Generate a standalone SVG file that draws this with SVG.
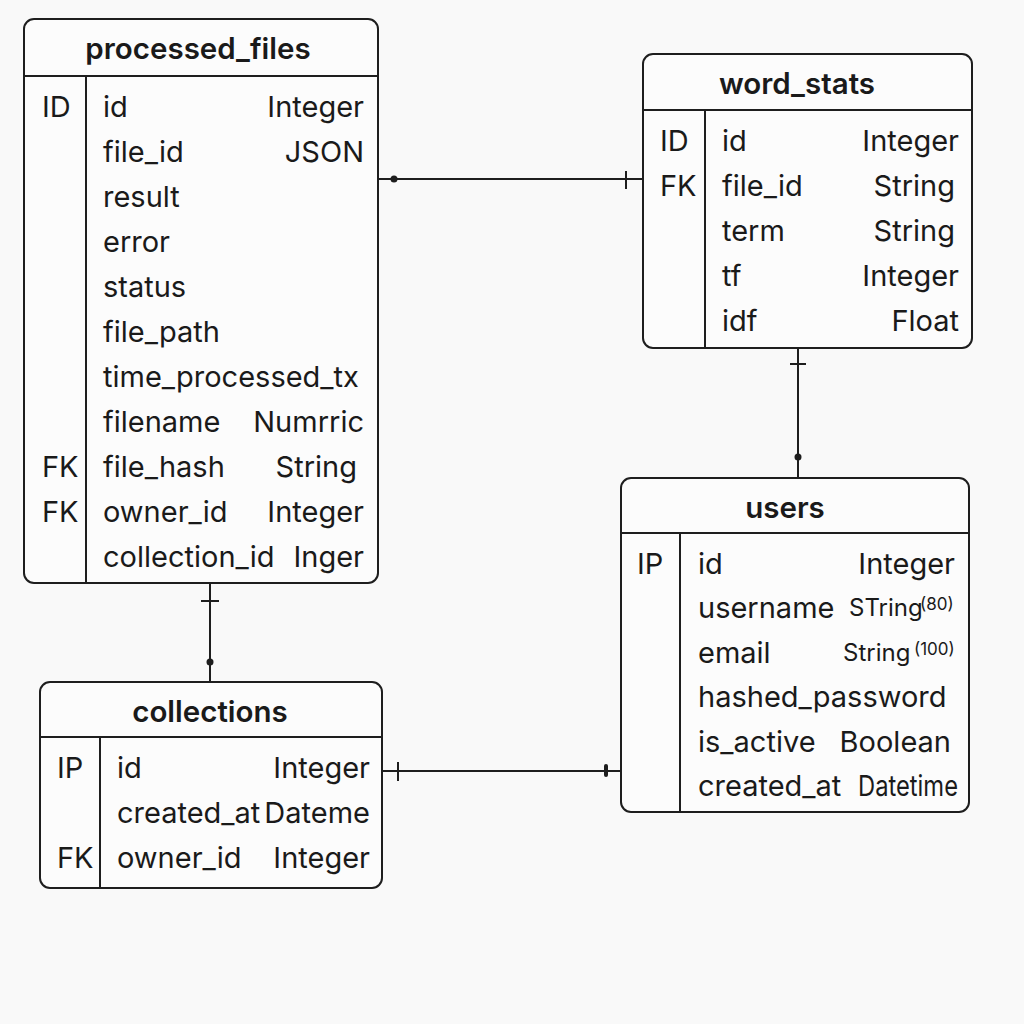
<svg xmlns="http://www.w3.org/2000/svg" width="1024" height="1024" viewBox="0 0 1024 1024">
<style>
.box{fill:#fcfcfc;stroke:#1e1e1e;stroke-width:2}
.ln{stroke:#1e1e1e;stroke-width:2;fill:none}
.t{font-family:Inter,"Liberation Sans",Arial,sans-serif;font-size:29.5px;font-weight:600;fill:#1a1a1a;text-anchor:middle;dominant-baseline:central}
.f{font-family:Inter,"Liberation Sans",Arial,sans-serif;font-size:29px;fill:#1a1a1a;dominant-baseline:central}
.r{text-anchor:end}
.c{font-size:24px}
.s{font-size:17px}
.dot{fill:#1e1e1e}
</style>
<rect width="1024" height="1024" fill="#f9f9f9"/>
<g id="connectors">
<line class="ln" x1="378" y1="179" x2="643" y2="179"/>
<circle class="dot" cx="394" cy="179" r="3.5"/>
<line class="ln" x1="626" y1="171" x2="626" y2="189"/>
<line class="ln" x1="210" y1="583" x2="210" y2="682"/>
<line class="ln" x1="201" y1="601" x2="219" y2="601"/>
<circle class="dot" cx="210" cy="662" r="3.5"/>
<line class="ln" x1="798" y1="348" x2="798" y2="478"/>
<line class="ln" x1="790" y1="364" x2="806" y2="364"/>
<circle class="dot" cx="798" cy="457" r="3.5"/>
<line class="ln" x1="382" y1="771" x2="621" y2="771"/>
<line class="ln" x1="398" y1="762" x2="398" y2="781"/>
<rect class="dot" x="604" y="764" width="4" height="13" rx="2"/>
</g>
<g id="processed_files">
<rect class="box" x="24" y="19" width="354" height="564" rx="10"/>
<line class="ln" x1="24" y1="76" x2="378" y2="76"/>
<line class="ln" x1="86" y1="76" x2="86" y2="583"/>
<text class="t" x="198" y="48">processed_files</text>
<text class="f" x="42" y="106">ID</text>
<text class="f" x="103" y="106">id</text><text class="f r" x="364" y="106">Integer</text>
<text class="f" x="103" y="151">file_id</text><text class="f r" x="364" y="151">JSON</text>
<text class="f" x="103" y="196">result</text>
<text class="f" x="103" y="241">error</text>
<text class="f" x="103" y="286">status</text>
<text class="f" x="103" y="331">file_path</text>
<text class="f" x="103" y="376">time_processed_tx</text>
<text class="f" x="103" y="421">filename</text><text class="f r" x="364" y="421">Numrric</text>
<text class="f" x="42" y="466">FK</text>
<text class="f" x="103" y="466">file_hash</text><text class="f r" x="357" y="466">String</text>
<text class="f" x="42" y="511">FK</text>
<text class="f" x="103" y="511">owner_id</text><text class="f r" x="364" y="511">Integer</text>
<text class="f" x="103" y="556">collection_id</text><text class="f r" x="364" y="556">Inger</text>
</g>
<g id="word_stats">
<rect class="box" x="643" y="54" width="329" height="294" rx="10"/>
<line class="ln" x1="643" y1="110" x2="972" y2="110"/>
<line class="ln" x1="705" y1="110" x2="705" y2="348"/>
<text class="t" x="797" y="83">word_stats</text>
<text class="f" x="660" y="140">ID</text>
<text class="f" x="722" y="140">id</text><text class="f r" x="959" y="140">Integer</text>
<text class="f" x="660" y="185">FK</text>
<text class="f" x="722" y="185">file_id</text><text class="f r" x="955" y="185">String</text>
<text class="f" x="722" y="230">term</text><text class="f r" x="955" y="230">String</text>
<text class="f" x="722" y="275">tf</text><text class="f r" x="959" y="275">Integer</text>
<text class="f" x="722" y="320">idf</text><text class="f r" x="959" y="320">Float</text>
</g>
<g id="users">
<rect class="box" x="621" y="478" width="348" height="334" rx="10"/>
<line class="ln" x1="621" y1="533" x2="969" y2="533"/>
<line class="ln" x1="680" y1="533" x2="680" y2="812"/>
<text class="t" x="785" y="507">users</text>
<text class="f" x="637" y="563">IP</text>
<text class="f" x="698" y="563">id</text><text class="f r" x="955" y="563">Integer</text>
<text class="f" x="698" y="607">username</text>
<text class="f c" x="849" y="607">STring</text>
<text class="f s" x="920" y="604">(80)</text>
<text class="f" x="698" y="652">email</text>
<text class="f c" x="843" y="652">String</text>
<text class="f s" x="914" y="649">(100)</text>
<text class="f" x="698" y="696">hashed_password</text>
<text class="f" x="698" y="741">is_active</text><text class="f r" x="951" y="741">Boolean</text>
<text class="f" x="698" y="785">created_at</text><text class="f" x="858" y="785" textLength="100" lengthAdjust="spacingAndGlyphs">Datetime</text>
</g>
<g id="collections">
<rect class="box" x="40" y="682" width="342" height="206" rx="10"/>
<line class="ln" x1="40" y1="737" x2="382" y2="737"/>
<line class="ln" x1="100" y1="737" x2="100" y2="888"/>
<text class="t" x="210" y="711">collections</text>
<text class="f" x="57" y="767">IP</text>
<text class="f" x="117" y="767">id</text><text class="f r" x="370" y="767">Integer</text>
<text class="f" x="117" y="812">created_at</text><text class="f r" x="370" y="812">Dateme</text>
<text class="f" x="57" y="857">FK</text>
<text class="f" x="117" y="857">owner_id</text><text class="f r" x="370" y="857">Integer</text>
</g>
</svg>
